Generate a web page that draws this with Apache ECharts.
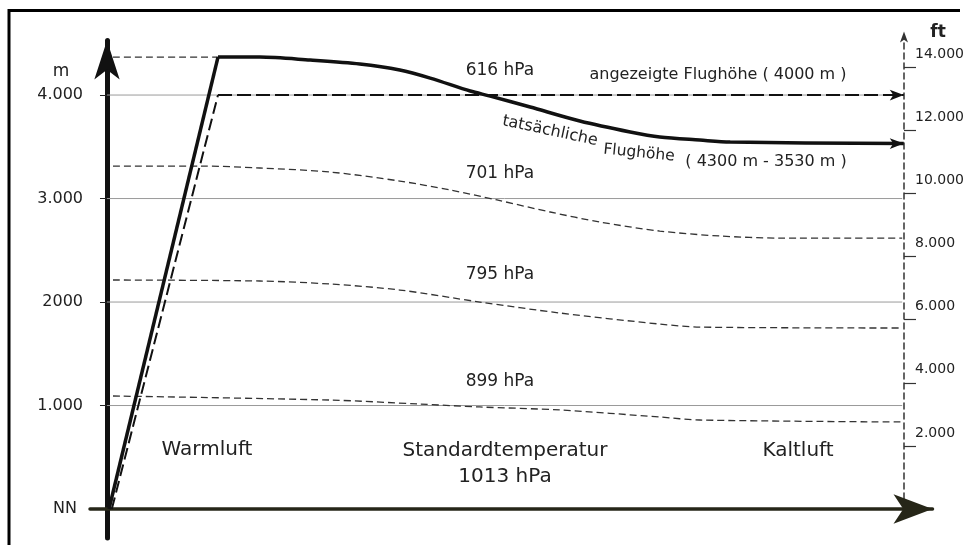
<!DOCTYPE html>
<html>
<head>
<meta charset="utf-8">
<title>Flughöhe</title>
<script src="https://cdn.jsdelivr.net/npm/echarts@6.0.0/dist/echarts.min.js"></script>
<style>
  html, body { margin: 0; padding: 0; background: #fff; }
  #chart { width: 969px; height: 545px; }
</style>
</head>
<body>
<div id="chart"></div>
<script>
// x = horizontal distance (0 = Hoehenachse, ~100 = ft-Achse), y = Hoehe in m
var heightTicks = [0, 1000, 2000, 3000, 4000];
var heightLabels = ['NN', '1.000', '2000', '3.000', '4.000'];
var feetTicks = [2000, 4000, 6000, 8000, 10000, 12000, 14000];
var feetLabels = ['2.000', '4.000', '6.000', '8.000', '10.000', '12.000', '14.000'];
var gridLevels = [1000, 2000, 3000, 4000];
var gridEnd = 99.4;

// tatsaechliche Flughoehe
var actualClimb = [[0.25, 0], [13.875, 4367]];
var actualCruise = [[13.875, 4367], [19.1, 4367], [25.4, 4338], [31.6, 4300], [36.6, 4242], [40.4, 4164],
  [45.4, 4039], [47.9, 3990], [52.9, 3884], [59.1, 3749], [65.4, 3643], [69.1, 3594], [74.1, 3565],
  [77.9, 3546], [99.6, 3531]];

// angezeigte Flughoehe
var indicatedClimb = [[0.6, 0], [13.875, 4000]];
var indicatedCruise = [[13.875, 4000], [99.6, 4000]];

// Druckflaechen
var topLevel = [[0.75, 4367], [13.875, 4367]];
var iso701 = [[0.75, 3314], [11.6, 3314], [19.1, 3295], [27.9, 3256], [36.6, 3169], [42.9, 3082],
  [48.75, 2986], [55.4, 2870], [61.6, 2773], [69.1, 2686], [76.6, 2638], [84.1, 2618], [99.4, 2618]];
var iso795 = [[0.75, 2213], [19.1, 2203], [27.9, 2174], [36.6, 2116], [46.6, 2000], [56.6, 1894],
  [69.1, 1787], [74.1, 1758], [99.4, 1749]];
var iso899 = [[0.75, 1092], [27.9, 1053], [39.1, 1014], [46.6, 986], [56.6, 957], [69.1, 889],
  [74.1, 860], [99.4, 841]];

var M_TO_FT = 3.28084;
var yMin = -280, yMax = 4527;
var FONT = '"DejaVu Sans", sans-serif';

var chart = echarts.init(document.getElementById('chart'));

function isoSeries(data) {
  return {
    type: 'line', data: data, symbol: 'none', smooth: 0.3, silent: true, z: 2,
    lineStyle: { color: '#333', width: 1.3, type: [7, 4] }
  };
}

function arrowAt(data) {
  return {
    silent: true, symbol: 'arrow', symbolSize: [8, 14], symbolRotate: -90,
    label: { show: false }, itemStyle: { color: '#111' },
    data: [{ coord: data[data.length - 1] }]
  };
}

var series = gridLevels.map(function (lvl) {
  return {
    type: 'line', data: [[0, lvl], [gridEnd, lvl]], symbol: 'none', silent: true, z: 1,
    lineStyle: { color: '#9a9a9a', width: 1 }
  };
});
series.push(isoSeries(topLevel), isoSeries(iso701), isoSeries(iso795), isoSeries(iso899));
series.push({
  type: 'line', data: indicatedClimb, symbol: 'none', silent: true, z: 3,
  lineStyle: { color: '#111', width: 2, type: [12, 5] }
});
series.push({
  type: 'line', data: indicatedCruise, symbol: 'none', silent: true, z: 3,
  lineStyle: { color: '#111', width: 2, type: [14, 5] },
  markPoint: arrowAt(indicatedCruise)
});
series.push({
  type: 'line', data: actualClimb, symbol: 'none', silent: true, z: 4,
  lineStyle: { color: '#111', width: 3.5 }
});
series.push({
  type: 'line', data: actualCruise, symbol: 'none', silent: true, z: 4,
  smooth: 0.3,
  lineStyle: { color: '#111', width: 3.5 },
  markPoint: arrowAt(actualCruise)
});

function txt(text, x, y, size, rot, bold) {
  return {
    type: 'text', x: x, y: y, rotation: rot || 0, silent: true, z: 10,
    style: {
      text: text, fill: '#222', align: 'center', verticalAlign: 'middle',
      font: (bold ? 'bold ' : '') + size + 'px ' + FONT
    }
  };
}

var option = {
  animation: false,
  backgroundColor: '#fff',
  grid: [
    { left: 90, right: 36.5, top: 40.5, bottom: 7 },
    { left: 300, right: 65, top: 40.5, bottom: 36 }
  ],
  xAxis: [
    {
      type: 'value', gridIndex: 0, min: -2.125, max: 103.19,
      axisLine: {
        show: true, onZero: true, symbol: ['none', 'arrow'], symbolSize: [22, 39],
        lineStyle: { color: '#262618', width: 3.5 }
      },
      axisTick: { show: false }, axisLabel: { show: false }, splitLine: { show: false }
    },
    { type: 'value', gridIndex: 1, min: 0, max: 1, show: false }
  ],
  yAxis: [
    {
      type: 'value', gridIndex: 0, min: yMin, max: yMax, position: 'left',
      axisLine: {
        show: true, onZero: true, symbol: ['none', 'arrow'], symbolSize: [19, 39],
        lineStyle: { color: '#111', width: 5 }
      },
      axisTick: { show: true, customValues: gridLevels, length: 7, lineStyle: { color: '#222', width: 1 } },
      axisLabel: {
        show: true, customValues: heightTicks, margin: 7, fontSize: 16, fontFamily: FONT, color: '#222',
        rich: { nn: { fontSize: 16, fontFamily: FONT, color: '#222', padding: [0, 6, 0, 0] } },
        formatter: function (v) {
          var i = heightTicks.indexOf(v);
          if (i < 0) return '';
          return v === 0 ? '{nn|' + heightLabels[i] + '}' : heightLabels[i];
        }
      },
      splitLine: { show: false }
    },
    {
      type: 'value', gridIndex: 1, min: 0, max: yMax * M_TO_FT, position: 'right',
      axisLine: {
        show: true, onZero: false, symbol: ['none', 'arrow'], symbolSize: [6, 11], symbolOffset: [0, 9],
        lineStyle: { color: '#333', width: 1.5, type: [6, 4] }
      },
      axisTick: { show: true, customValues: feetTicks, length: 12, lineStyle: { color: '#333', width: 1.2 } },
      axisLabel: {
        show: true, customValues: feetTicks, margin: 11, fontSize: 14, fontFamily: FONT, color: '#222',
        verticalAlign: 'bottom', lineHeight: 26,
        formatter: function (v) {
          var i = feetTicks.indexOf(v);
          return i < 0 ? '' : feetLabels[i];
        }
      },
      splitLine: { show: false }
    }
  ],
  graphic: [
    // Rahmen
    {
      type: 'polyline', silent: true, z: 10,
      shape: { points: [[9, 545], [9, 10.5], [960, 10.5]] },
      style: { stroke: '#000', lineWidth: 3, fill: null }
    },
    txt('m', 61, 72, 17),
    txt('ft', 938, 33, 17, 0, true),
    txt('616 hPa', 500, 71, 17),
    txt('angezeigte Flughöhe ( 4000 m )', 718, 75, 16),
    txt('tatsächliche', 550, 131, 16, -0.21),
    txt('Flughöhe', 639, 153, 15.5, -0.1),
    txt('( 4300 m - 3530 m )', 766, 162, 16),
    txt('701 hPa', 500, 174, 17),
    txt('795 hPa', 500, 275, 17),
    txt('899 hPa', 500, 382, 17),
    txt('Warmluft', 207, 450, 20),
    txt('Standardtemperatur', 505, 451, 20),
    txt('1013 hPa', 505, 477, 20),
    txt('Kaltluft', 798, 451, 20)
  ],
  series: series
};

chart.setOption(option);
</script>
</body>
</html>
